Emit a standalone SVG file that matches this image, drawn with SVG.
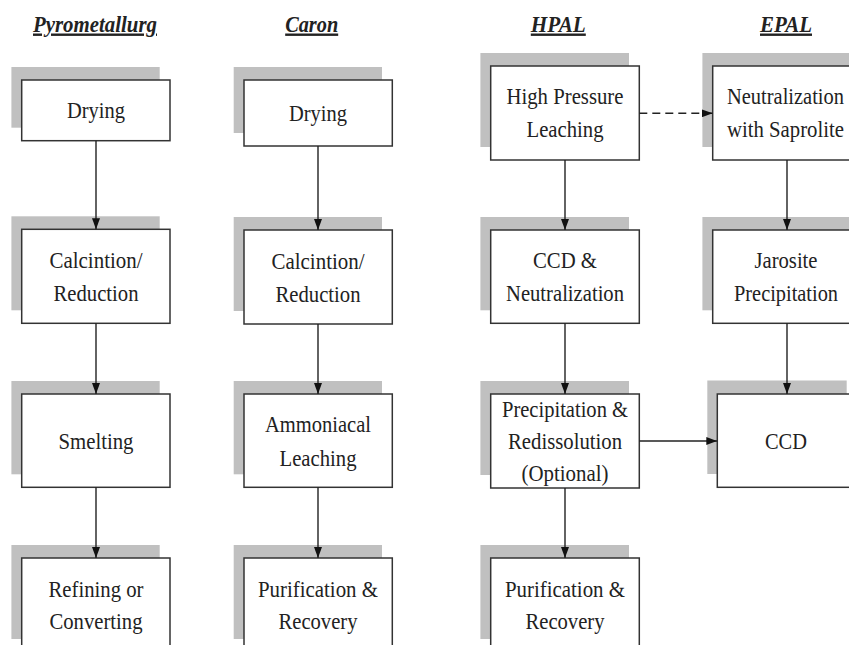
<svg xmlns="http://www.w3.org/2000/svg" width="849" height="645" viewBox="0 0 849 645">
<style>
.sh{fill:#c0c0c0;stroke:none}
.box{fill:#fff;stroke:#333;stroke-width:1.5}
.t{font-family:'Liberation Serif','DejaVu Serif','Noto Serif',serif;font-size:24px;fill:#222;text-anchor:middle}
.title{font-family:'Liberation Serif','DejaVu Serif','Noto Serif',serif;font-size:24px;font-weight:bold;font-style:italic;fill:#222;text-anchor:middle;text-decoration:underline}
.ln{stroke:#222;stroke-width:1.4;fill:none;marker-end:url(#ah)}
.dash{stroke-dasharray:8 5}
</style>
<defs>
<marker id="ah" markerUnits="userSpaceOnUse" markerWidth="11" markerHeight="8" refX="11" refY="4" orient="auto">
<path d="M0,0 L11,4 L0,8 z" fill="#111"/>
</marker>
</defs>
<rect width="849" height="645" fill="#fff"/>

<g id="titles">
<text class="title" x="95" y="31.5" textLength="124" lengthAdjust="spacingAndGlyphs">Pyrometallurg</text>
<text class="title" x="311.7" y="31.5" textLength="53" lengthAdjust="spacingAndGlyphs">Caron</text>
<text class="title" x="558.3" y="31.5" textLength="55" lengthAdjust="spacingAndGlyphs">HPAL</text>
<text class="title" x="786" y="31.5" textLength="52" lengthAdjust="spacingAndGlyphs">EPAL</text>
</g>

<!-- Pyrometallurgy -->
<g id="p-drying">
<rect class="sh" x="11.4" y="67" width="148.3" height="60.7"/>
<rect class="box" x="21.7" y="80" width="148.3" height="60.7"/>
<text class="t" x="96" y="118.3" textLength="58" lengthAdjust="spacingAndGlyphs">Drying</text>
</g>
<g id="p-calc">
<rect class="sh" x="11.4" y="216.3" width="148.3" height="94"/>
<rect class="box" x="21.7" y="229.3" width="148.3" height="94"/>
<text class="t" x="96" y="268" textLength="93" lengthAdjust="spacingAndGlyphs">Calcintion/</text>
<text class="t" x="96" y="301" textLength="85" lengthAdjust="spacingAndGlyphs">Reduction</text>
</g>
<g id="p-smelt">
<rect class="sh" x="11.4" y="381" width="148.3" height="93.3"/>
<rect class="box" x="21.7" y="394" width="148.3" height="93.3"/>
<text class="t" x="96" y="449" textLength="75" lengthAdjust="spacingAndGlyphs">Smelting</text>
</g>
<g id="p-refine">
<rect class="sh" x="11.4" y="545" width="148.3" height="94"/>
<rect class="box" x="21.7" y="558" width="148.3" height="94"/>
<text class="t" x="96" y="597" textLength="95" lengthAdjust="spacingAndGlyphs">Refining or</text>
<text class="t" x="96" y="629" textLength="93" lengthAdjust="spacingAndGlyphs">Converting</text>
</g>

<!-- Caron -->
<g id="c-drying">
<rect class="sh" x="233.7" y="67" width="148.3" height="66"/>
<rect class="box" x="244" y="80" width="148.3" height="66"/>
<text class="t" x="318" y="121" textLength="58" lengthAdjust="spacingAndGlyphs">Drying</text>
</g>
<g id="c-calc">
<rect class="sh" x="233.7" y="217" width="148.3" height="94"/>
<rect class="box" x="244" y="230" width="148.3" height="94"/>
<text class="t" x="318" y="269" textLength="93" lengthAdjust="spacingAndGlyphs">Calcintion/</text>
<text class="t" x="318" y="302" textLength="85" lengthAdjust="spacingAndGlyphs">Reduction</text>
</g>
<g id="c-ammon">
<rect class="sh" x="233.7" y="381" width="148.3" height="93.3"/>
<rect class="box" x="244" y="394" width="148.3" height="93.3"/>
<text class="t" x="318" y="432" textLength="106" lengthAdjust="spacingAndGlyphs">Ammoniacal</text>
<text class="t" x="318" y="466" textLength="77" lengthAdjust="spacingAndGlyphs">Leaching</text>
</g>
<g id="c-purif">
<rect class="sh" x="233.7" y="545" width="148.3" height="94"/>
<rect class="box" x="244" y="558" width="148.3" height="94"/>
<text class="t" x="318" y="597" textLength="120" lengthAdjust="spacingAndGlyphs">Purification &amp;</text>
<text class="t" x="318" y="629" textLength="79" lengthAdjust="spacingAndGlyphs">Recovery</text>
</g>

<!-- HPAL -->
<g id="h-hpl">
<rect class="sh" x="480.4" y="53" width="148.6" height="94"/>
<rect class="box" x="490.7" y="66" width="148.6" height="94"/>
<text class="t" x="565" y="104" textLength="117" lengthAdjust="spacingAndGlyphs">High Pressure</text>
<text class="t" x="565" y="137" textLength="77" lengthAdjust="spacingAndGlyphs">Leaching</text>
</g>
<g id="h-ccd">
<rect class="sh" x="480.4" y="217" width="148.6" height="93.3"/>
<rect class="box" x="490.7" y="230" width="148.6" height="93.3"/>
<text class="t" x="565" y="268" textLength="64" lengthAdjust="spacingAndGlyphs">CCD &amp;</text>
<text class="t" x="565" y="301" textLength="118" lengthAdjust="spacingAndGlyphs">Neutralization</text>
</g>
<g id="h-precip">
<rect class="sh" x="480.4" y="381" width="148.6" height="94"/>
<rect class="box" x="490.7" y="394" width="148.6" height="94"/>
<text class="t" x="565" y="417" textLength="126" lengthAdjust="spacingAndGlyphs">Precipitation &amp;</text>
<text class="t" x="565" y="449" textLength="114" lengthAdjust="spacingAndGlyphs">Redissolution</text>
<text class="t" x="565" y="481" textLength="87" lengthAdjust="spacingAndGlyphs">(Optional)</text>
</g>
<g id="h-purif">
<rect class="sh" x="480.4" y="545" width="148.6" height="94"/>
<rect class="box" x="490.7" y="558" width="148.6" height="94"/>
<text class="t" x="565" y="597" textLength="120" lengthAdjust="spacingAndGlyphs">Purification &amp;</text>
<text class="t" x="565" y="629" textLength="79" lengthAdjust="spacingAndGlyphs">Recovery</text>
</g>

<!-- EPAL -->
<g id="e-neut">
<rect class="sh" x="702.4" y="53" width="148.6" height="94"/>
<rect class="box" x="712.7" y="66" width="148.6" height="94"/>
<text class="t" x="785.5" y="104" textLength="117" lengthAdjust="spacingAndGlyphs">Neutralization</text>
<text class="t" x="785.5" y="137" textLength="117" lengthAdjust="spacingAndGlyphs">with Saprolite</text>
</g>
<g id="e-jaro">
<rect class="sh" x="702.4" y="217" width="148.6" height="93.3"/>
<rect class="box" x="712.7" y="230" width="148.6" height="93.3"/>
<text class="t" x="786" y="268" textLength="63" lengthAdjust="spacingAndGlyphs">Jarosite</text>
<text class="t" x="786" y="301" textLength="104" lengthAdjust="spacingAndGlyphs">Precipitation</text>
</g>
<g id="e-ccd">
<rect class="sh" x="707.3" y="380.5" width="139.4" height="93.5"/>
<rect class="box" x="717.3" y="394" width="139.4" height="93.3"/>
<text class="t" x="786" y="449" textLength="42" lengthAdjust="spacingAndGlyphs">CCD</text>
</g>

<g id="connectors">
<line class="ln" x1="96" y1="140.7" x2="96" y2="229.3"/>
<line class="ln" x1="96" y1="323.3" x2="96" y2="394"/>
<line class="ln" x1="96" y1="487.3" x2="96" y2="558"/>
<line class="ln" x1="318" y1="146" x2="318" y2="230"/>
<line class="ln" x1="318" y1="324" x2="318" y2="394"/>
<line class="ln" x1="318" y1="487.3" x2="318" y2="558"/>
<line class="ln" x1="565" y1="160" x2="565" y2="230"/>
<line class="ln" x1="565" y1="323.3" x2="565" y2="394"/>
<line class="ln" x1="565" y1="488" x2="565" y2="558"/>
<line class="ln" x1="787" y1="160" x2="787" y2="230"/>
<line class="ln" x1="787" y1="323.3" x2="787" y2="394"/>
<line class="ln" x1="639.3" y1="441" x2="717.3" y2="441"/>
<line class="ln dash" x1="639.3" y1="113.3" x2="712.7" y2="113.3"/>
</g>
</svg>
